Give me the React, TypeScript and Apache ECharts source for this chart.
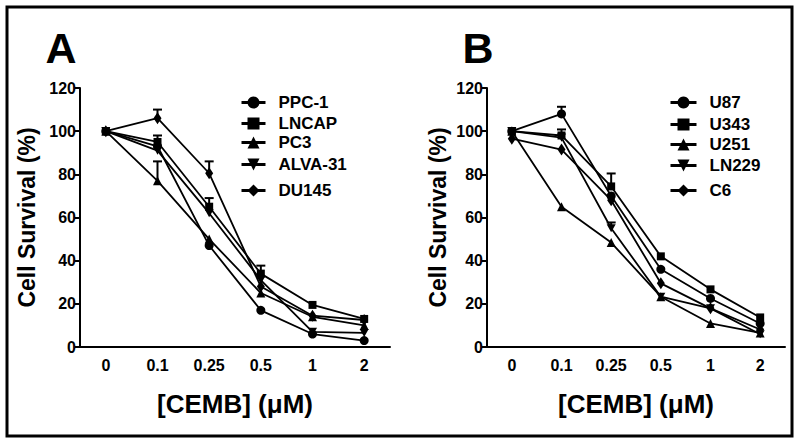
import React, { useEffect, useRef } from "react";
import * as echarts from "echarts";

const categories = ["0", "0.1", "0.25", "0.5", "1", "2"];
const yTicksMax = 120;

// Panel A (prostate lines)
const namesA = ["PPC-1", "LNCAP", "PC3", "ALVA-31", "DU145"];
const ppc1 = [100, 93, 47, 17, 6, 3];
const lncap = [100, 95, 65, 34, 19.5, 13];
const pc3 = [100, 77, 50, 25, 14, 10];
const alva31 = [100, 91, 62, 31, 7, 6.5];
const du145 = [100, 106, 80.5, 28, 14.5, 12.5];
const ppc1Err = [0, 0, 0, 0, 0, 0];
const lncapErr = [0, 3, 4, 3.7, 0, 0];
const pc3Err = [0, 9, 0, 0, 0, 0];
const alva31Err = [0, 0, 0, 0, 0, 0];
const du145Err = [0, 4, 5.5, 0, 0, 0];

// Panel B (glioma lines)
const namesB = ["U87", "U343", "U251", "LN229", "C6"];
const u87 = [100, 108, 70, 36, 22.5, 10.9];
const u343 = [100, 98, 74.4, 42, 26.7, 13.7];
const u251 = [100, 65, 48.4, 23.3, 10.9, 6.5];
const ln229 = [100, 97, 55, 23.3, 17.9, 5.9];
const c6 = [96.5, 91.5, 68, 29.5, 17.9, 8.1];
const u87Err = [0, 3.3, 0, 0, 0, 0];
const u343Err = [0, 2.8, 6, 0, 0, 0];
const u251Err = [0, 0, 0, 0, 0, 0];
const ln229Err = [0, 0, 2.7, 0, 0, 0];
const c6Err = [0, 0, 0, 0, 0, 0];

const FONT = "'Liberation Sans', Arial, Helvetica, sans-serif";
const TRI_DOWN = "path://M0,0L2,0L1,1.8Z";
const symbols = ["circle", "rect", "triangle", TRI_DOWN, "diamond"];
const symbolSizes: any[] = [9, 8, 9, 9, [8, 12]];

function errData(vals: number[][], errs: number[][]) {
  const out: number[][] = [];
  vals.forEach((v, s) => {
    v.forEach((y, i) => {
      if (errs[s][i] > 0) out.push([i, y, errs[s][i]]);
    });
  });
  return out;
}

const renderErr = (params: any, api: any) => {
  const x = api.value(0);
  const y = api.value(1);
  const e = api.value(2);
  const p0 = api.coord([x, y]);
  const p1 = api.coord([x, y + e]);
  return {
    type: "group",
    children: [
      { type: "line", shape: { x1: p0[0], y1: p0[1], x2: p1[0], y2: p1[1] }, style: { stroke: "#000", lineWidth: 2 } },
      { type: "line", shape: { x1: p1[0] - 4.5, y1: p1[1], x2: p1[0] + 4.5, y2: p1[1] }, style: { stroke: "#000", lineWidth: 2 } },
    ],
  };
};

export default function App() {
  const ref = useRef<HTMLDivElement>(null);
  useEffect(() => {
    const chart = echarts.init(ref.current!, undefined, { renderer: "svg" });
    const axisLabel = { color: "#000", fontWeight: "bold", fontSize: 16, fontFamily: FONT };
    const mkX = (gi: number) => ({
      type: "category",
      gridIndex: gi,
      data: categories,
      boundaryGap: true,
      axisLine: { lineStyle: { color: "#000", width: 2 } },
      axisTick: { alignWithLabel: true, length: 5, lineStyle: { color: "#000", width: 2 } },
      axisLabel: { ...axisLabel, margin: 10 },
      name: "[CEMB] (μM)",
      nameLocation: "middle",
      nameGap: 44,
      nameTextStyle: { color: "#000", fontWeight: "bold", fontSize: 26, fontFamily: FONT },
    });
    const mkY = (gi: number, gap: number) => ({
      type: "value",
      gridIndex: gi,
      min: 0,
      max: yTicksMax,
      interval: 20,
      splitLine: { show: false },
      axisLine: { show: true, lineStyle: { color: "#000", width: 2 } },
      axisTick: { show: true, length: 5, lineStyle: { color: "#000", width: 2 } },
      axisLabel: { ...axisLabel, margin: 4 },
      name: "Cell Survival (%)",
      nameLocation: "middle",
      nameRotate: 90,
      nameGap: gap,
      nameTextStyle: { color: "#000", fontWeight: "bold", fontSize: 23, fontFamily: FONT },
    });
    const valsA = [ppc1, lncap, pc3, alva31, du145];
    const errsA = [ppc1Err, lncapErr, pc3Err, alva31Err, du145Err];
    const valsB = [u87, u343, u251, ln229, c6];
    const errsB = [u87Err, u343Err, u251Err, ln229Err, c6Err];
    const lineSeries = (names: string[], vals: number[][], gi: number) =>
      names.map((n, i) => ({
        type: "line",
        name: n,
        xAxisIndex: gi,
        yAxisIndex: gi,
        data: vals[i],
        symbol: symbols[i],
        symbolSize: symbolSizes[i],
        symbolKeepAspect: true,
        lineStyle: { color: "#000", width: 1.8 },
        itemStyle: { color: "#000" },
        z: 3,
      }));
    const legendTopsA = [89, 110, 129, 151, 177];
    const legendTopsB = [89, 111, 131, 152, 177];
    const legText = { color: "#000", fontWeight: "bold", fontSize: 17, fontFamily: FONT, padding: [0, 0, 0, 8] };
    const legends = [
      ...namesA.map((n, i) => ({
        data: [n],
        left: 235,
        top: legendTopsA[i],
        itemWidth: 24,
        itemHeight: 15,
        selectedMode: false,
        lineStyle: { width: 3 },
        textStyle: legText,
      })),
      ...namesB.map((n, i) => ({
        data: [n],
        left: 664,
        top: legendTopsB[i],
        itemWidth: 26,
        itemHeight: 15,
        selectedMode: false,
        lineStyle: { width: 3 },
        textStyle: legText,
      })),
    ];
    chart.setOption({
      animation: false,
      backgroundColor: "#fff",
      grid: [
        { left: 80, top: 88, width: 310, height: 259 },
        { left: 487, top: 88, width: 298, height: 259 },
      ],
      xAxis: [mkX(0), mkX(1)],
      yAxis: [mkY(0, 42), mkY(1, 38)],
      legend: legends,
      series: [
        ...lineSeries(namesA, valsA, 0),
        ...lineSeries(namesB, valsB, 1),
        {
          type: "custom",
          xAxisIndex: 0,
          yAxisIndex: 0,
          renderItem: renderErr,
          data: errData(valsA, errsA),
          encode: { x: 0, y: 1 },
          z: 2,
        },
        {
          type: "custom",
          xAxisIndex: 1,
          yAxisIndex: 1,
          renderItem: renderErr,
          data: errData(valsB, errsB),
          encode: { x: 0, y: 1 },
          z: 2,
        },
      ],
      graphic: [
        { type: "rect", shape: { x: 7, y: 7, width: 785, height: 429 }, style: { fill: "none", stroke: "#000", lineWidth: 3 } },
        { type: "text", x: 61, y: 48, style: { text: "A", fill: "#000", font: `bold 43px ${FONT}`, align: "center", verticalAlign: "middle" } },
        { type: "text", x: 478, y: 48, style: { text: "B", fill: "#000", font: `bold 43px ${FONT}`, align: "center", verticalAlign: "middle" } },
      ],
    });
    return () => chart.dispose();
  }, []);
  return <div ref={ref} style={{ position: "absolute", left: 0, top: 0, width: 800, height: 443 }} />;
}
